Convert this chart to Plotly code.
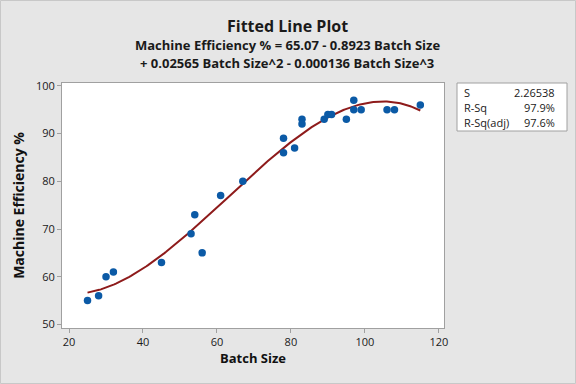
import numpy as np
import plotly.graph_objects as go

# Data
batch_size = [25, 28, 30, 32, 45, 53, 54, 56, 61, 67, 78, 78, 81, 83, 83,
              89, 90, 91, 95, 97, 97, 99, 106, 108, 115]
efficiency = [55, 56, 60, 61, 63, 69, 73, 65, 77, 80, 89, 86, 87, 93, 92,
              93, 94, 94, 93, 97, 95, 95, 95, 95, 96]

# Fitted cubic coefficients (from the title equation), constant term first
coefs = [65.07, -0.8923, 0.02565, -0.000136]
fit_range = [25, 115]

stats_labels = ["S", "R-Sq", "R-Sq(adj)"]
stats_values = ["2.26538", "97.9%", "97.6%"]

x_ticks = [20, 40, 60, 80, 100, 120]
y_ticks = [50, 60, 70, 80, 90, 100]

xf = np.linspace(fit_range[0], fit_range[1], 200)
yf = np.polynomial.polynomial.polyval(xf, coefs)

FONT = "Open Sans"
W, H = 576, 384
L, R, T, B = 62, 132, 83, 56
pw, ph = W - L - R, H - T - B

def px(xpix):
    return (xpix - L) / pw

def py(ypix):
    return (H - B - ypix) / ph

fig = go.Figure()
fig.add_trace(go.Scatter(x=xf, y=yf, mode="lines",
                         line=dict(color="#8e1b1b", width=2),
                         hoverinfo="skip", showlegend=False))
fig.add_trace(go.Scatter(x=batch_size, y=efficiency, mode="markers",
                         marker=dict(color="#0b5aa6", size=7.5),
                         showlegend=False))

axis_common = dict(showline=True, linecolor="#a0a0a0", linewidth=1, mirror=True,
                   ticks="outside", ticklen=4, tickcolor="#a0a0a0",
                   showgrid=False, zeroline=False,
                   tickfont=dict(family=FONT, size=11, color="#1a1a1a"))

fig.update_xaxes(range=[18.1, 121.4], tickvals=x_ticks,
                 title=dict(text="<b>Batch Size</b>", standoff=4,
                            font=dict(family=FONT, size=13, color="#111111")),
                 **axis_common)
fig.update_yaxes(range=[49.25, 100.6], tickvals=y_ticks,
                 title=dict(text="<b>Machine Efficiency %</b>", standoff=8,
                            font=dict(family=FONT, size=14, color="#111111")),
                 **axis_common)

annotations = [
    dict(text="<b>Fitted Line Plot</b>", x=px(287), y=py(26), xref="paper", yref="paper",
         showarrow=False, font=dict(family=FONT, size=16, color="#1a1a1a"),
         xanchor="center", yanchor="middle"),
    dict(text="<b>Machine Efficiency % = 65.07 - 0.8923 Batch Size</b>", x=px(287), y=py(45),
         xref="paper", yref="paper", showarrow=False,
         font=dict(family=FONT, size=13, color="#1a1a1a"), xanchor="center", yanchor="middle"),
    dict(text="<b>+ 0.02565 Batch Size^2 - 0.000136 Batch Size^3</b>", x=px(287), y=py(63),
         xref="paper", yref="paper", showarrow=False,
         font=dict(family=FONT, size=13, color="#1a1a1a"), xanchor="center", yanchor="middle"),
]
row_y = [92, 107.5, 122]
for lab, val, yy in zip(stats_labels, stats_values, row_y):
    annotations.append(dict(text=lab, x=px(462), y=py(yy), xref="paper", yref="paper",
                            showarrow=False, xanchor="left", yanchor="middle",
                            font=dict(family=FONT, size=11, color="#1a1a1a")))
    annotations.append(dict(text=val, x=px(557), y=py(yy), xref="paper", yref="paper",
                            showarrow=False, xanchor="right", yanchor="middle",
                            font=dict(family=FONT, size=11, color="#1a1a1a")))

shapes = [
    dict(type="rect", xref="paper", yref="paper", x0=px(457), x1=px(567),
         y0=py(131), y1=py(83), line=dict(color="#a0a0a0", width=1), fillcolor="white"),
    dict(type="rect", xref="paper", yref="paper", x0=px(0.5), x1=px(575.5),
         y0=py(383.5), y1=py(0.5), line=dict(color="#c8c8c8", width=1), layer="below"),
]

fig.update_layout(width=W, height=H, margin=dict(l=L, r=R, t=T, b=B),
                  paper_bgcolor="#e6e6e6", plot_bgcolor="white",
                  annotations=annotations, shapes=shapes, showlegend=False)

fig.write_html("out.html", config={"displayModeBar": False},
               post_script="document.body.style.margin='0';document.body.style.padding='0';")
